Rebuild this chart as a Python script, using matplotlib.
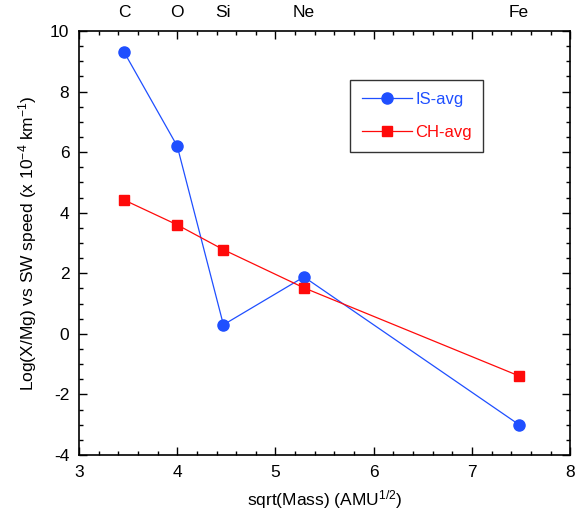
import matplotlib
matplotlib.use('Agg')
import matplotlib.pyplot as plt
from matplotlib.ticker import MultipleLocator

plt.rcParams['font.family'] = ['Liberation Sans', 'DejaVu Sans']
plt.rcParams['axes.unicode_minus'] = False
plt.rcParams['mathtext.fontset'] = 'custom'
plt.rcParams['mathtext.rm'] = 'Liberation Sans'
plt.rcParams['mathtext.default'] = 'regular'

# sqrt(mass) positions and element labels (as shown on the chart)
x_vals = [3.46, 4.0, 4.47, 5.29, 7.48]
elements = ['C', 'O', 'Si', 'Ne', 'Fe']
is_avg = [9.3, 6.2, 0.3, 1.88, -3.0]
ch_avg = [4.42, 3.6, 2.78, 1.52, -1.39]

blue = '#1f4fff'
red = '#ff0a0a'

fig = plt.figure(figsize=(5.83, 5.26), dpi=100)
ax = fig.add_axes([0.1355, 0.135, 0.8425, 0.806])

ax.plot(x_vals, is_avg, '-o', color=blue, lw=0.9, ms=8, label='IS-avg')
ax.plot(x_vals, ch_avg, '-s', color=red, lw=0.9, ms=7.5, label='CH-avg')

ax.set_xlim(3, 8)
ax.set_ylim(-4, 10)
ax.xaxis.set_major_locator(MultipleLocator(1))
ax.xaxis.set_minor_locator(MultipleLocator(0.2))
ax.yaxis.set_major_locator(MultipleLocator(2))
ax.yaxis.set_minor_locator(MultipleLocator(0.5))
ax.tick_params(which='both', direction='in', top=True, right=True, width=1)
ax.tick_params(which='major', length=6, labelsize=12.5, pad=7)
ax.tick_params(which='minor', length=3)
for s in ax.spines.values():
    s.set_linewidth(1.2)

for x, el in zip(x_vals, elements):
    ax.text(x, 10.35, el, ha='center', va='bottom', fontsize=12.5)

ax.set_xlabel('sqrt(Mass) (AMU$^{1/2}$)', fontsize=12.5, labelpad=6)
ax.set_ylabel('Log(X/Mg) vs SW speed (x 10$^{-4}$ km$^{-1}$)', fontsize=12.5, labelpad=8)

leg = ax.legend(loc='upper left', bbox_to_anchor=(0.552, 0.884), fontsize=12,
                frameon=True, fancybox=False, edgecolor='black',
                borderpad=0.7, labelspacing=1.1, handlelength=3.0,
                handletextpad=0.2, borderaxespad=0)
leg.get_frame().set_linewidth(1.0)
for txt, c in zip(leg.get_texts(), [blue, red]):
    txt.set_color(c)

fig.savefig('out.png', dpi=100)
